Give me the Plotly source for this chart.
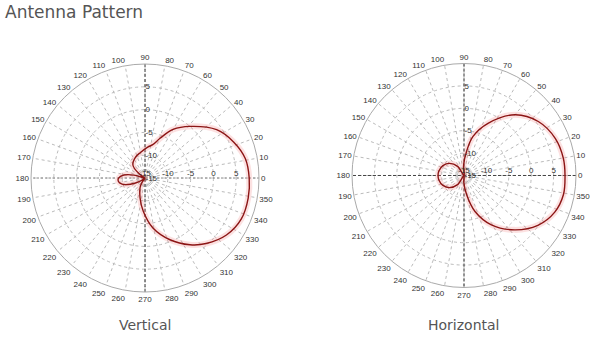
import plotly.graph_objects as go

# ---- data ----
v_theta = [0, 11, 22, 34, 49, 60, 69, 77, 85, 100, 115, 133, 145, 155,
           165, 172, 180, 187, 195, 203, 212, 220, 230, 240, 256, 267, 279,
           292, 304, 313, 325, 337, 349, 360]
v_db = [7.85, 7.4, 6.0, 3.95, 0.0, -2.7, -5.6, -7.5, -8.2, -9.3, -10.0, -11.1, -13.5, -15.0,
        -12.5, -10.3, -9.2, -9.1, -9.8, -11.5, -13.5, -15.0, -15.0, -13.0, -10.5, -7.7, -3.9,
        -0.4, 2.65, 4.65, 6.8, 7.95, 8.05, 7.85]

h_theta = [0, 10, 22, 36, 50, 65, 77, 84, 92, 110, 125, 140, 155, 170, 180,
           190, 205, 220, 235, 250, 268, 278, 287, 299, 313, 326, 338, 349, 360]
h_db = [7.55, 7.5, 7.0, 5.5, 2.7, -2.1, -6.05, -9.6, -12.6, -15.0, -12.5, -10.8, -9.8, -9.3, -9.2,
        -9.3, -9.8, -10.8, -12.5, -15.0, -13.5, -10.6, -6.6, -2.4, 1.6, 4.9, 6.85, 7.6, 7.55]

r_range = [-15, 10]
r_ticks = [-15, -10, -5, 0, 5]
ang_ticks = list(range(0, 360, 10))

fig = go.Figure()

def add_pattern(theta, db, subplot, hcolor, hdash):
    # cross lines
    fig.add_trace(go.Scatterpolar(r=[r_range[1], r_range[1]], theta=[0, 180], mode="lines",
                                  line=dict(color=hcolor, width=1, dash=hdash),
                                  subplot=subplot, hoverinfo="skip", showlegend=False))
    fig.add_trace(go.Scatterpolar(r=[r_range[1], r_range[1]], theta=[90, 270], mode="lines",
                                  line=dict(color="#333", width=1, dash="3px,2px"),
                                  subplot=subplot, hoverinfo="skip", showlegend=False))
    # glow
    fig.add_trace(go.Scatterpolar(r=db, theta=theta, mode="lines",
                                  line=dict(color="rgba(240,120,120,0.22)", width=6, shape="spline"),
                                  subplot=subplot, hoverinfo="skip", showlegend=False))
    fig.add_trace(go.Scatterpolar(r=db, theta=theta, mode="lines",
                                  line=dict(color="#8c1515", width=1.4, shape="spline"),
                                  subplot=subplot, showlegend=False))

add_pattern(v_theta, v_db, "polar", "#888", "2px,2px")
add_pattern(h_theta, h_db, "polar2", "#444", "3px,2px")
fig.add_trace(go.Scatterpolar(r=[], theta=[], subplot="polar3", showlegend=False))
fig.add_trace(go.Scatterpolar(r=[], theta=[], subplot="polar4", showlegend=False))

tickfont = dict(family="Liberation Sans", size=8, color="#333")

def main_polar(dx, dy):
    return dict(
        domain=dict(x=dx, y=dy),
        bgcolor="white",
        angularaxis=dict(rotation=0, direction="counterclockwise", tickvals=ang_ticks,
                         ticktext=[str(a) for a in ang_ticks], ticks="",
                         showline=True, linecolor="#aaa", linewidth=1,
                         gridcolor="#bbb", griddash="dot", tickfont=tickfont),
        radialaxis=dict(range=r_range, angle=90, side="clockwise", tickangle=90,
                        tickvals=r_ticks, ticktext=[str(t) for t in r_ticks], ticks="",
                        showline=False, gridcolor="#bbb", griddash="dot", tickfont=tickfont),
    )

def overlay_polar(dx, dy):
    return dict(
        domain=dict(x=dx, y=dy),
        bgcolor="rgba(0,0,0,0)",
        angularaxis=dict(visible=False, rotation=0),
        radialaxis=dict(range=r_range, angle=0, side="counterclockwise", tickangle=0,
                        tickvals=r_ticks, ticktext=[str(t) for t in r_ticks], ticks="",
                        showline=False, showgrid=False, tickfont=tickfont),
    )

L_x, L_y = [0.0517, 0.4317], [0.1335, 0.810]
R_x, R_y = [0.5867, 0.96], [0.1469, 0.8116]

fig.update_layout(
    width=600, height=337,
    margin=dict(l=0, r=0, t=0, b=0),
    paper_bgcolor="white",
    showlegend=False,
    polar=main_polar(L_x, L_y),
    polar2=main_polar(R_x, R_y),
    polar3=overlay_polar(L_x, L_y),
    polar4=overlay_polar(R_x, R_y),
    annotations=[
        dict(text="Antenna Pattern", x=0.005, y=0.999, xref="paper", yref="paper",
             xanchor="left", yanchor="top", showarrow=False,
             font=dict(family="DejaVu Sans", size=17, color="#555")),
        dict(text="Vertical", x=0.242, y=0.005, xref="paper", yref="paper",
             xanchor="center", yanchor="bottom", showarrow=False,
             font=dict(family="DejaVu Sans", size=14, color="#555")),
        dict(text="Horizontal", x=0.773, y=0.005, xref="paper", yref="paper",
             xanchor="center", yanchor="bottom", showarrow=False,
             font=dict(family="DejaVu Sans", size=14, color="#555")),
    ],
)

fig.write_html("out.html")
